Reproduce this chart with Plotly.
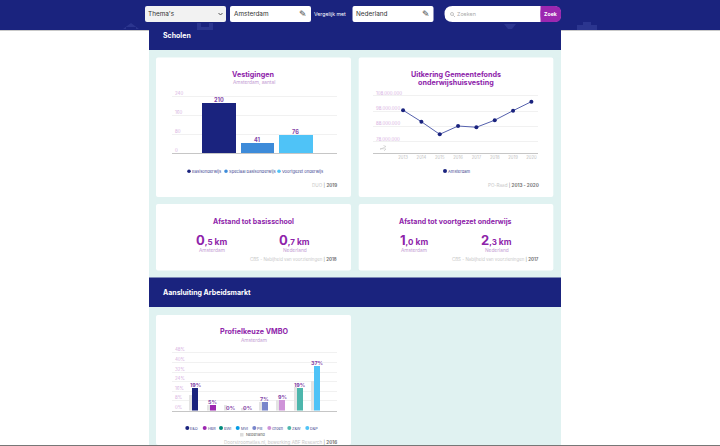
import plotly.graph_objects as go

# ---------- data ----------
school_types = ["Basisonderwijs", "Speciaal basisonderwijs", "Voortgezet onderwijs"]
school_counts = [210, 41, 76]
school_colors = ["#1a237e", "#3d8bd9", "#4fc3f7"]
school_ticks = [0, 80, 160, 240]

years = [2013, 2014, 2015, 2016, 2017, 2018, 2019, 2020]
uitkering = [98.7e6, 91.2e6, 83.0e6, 88.4e6, 87.6e6, 92.2e6, 98.4e6, 104.3e6]
uitkering_ticks = [78e6, 88e6, 98e6, 108e6]
uitkering_labels = ["78.000.000", "88.000.000", "98.000.000", "108.000.000"]

profielen = ["E&O", "HBR", "BWI", "MVI", "PIE", "Groen", "Z&W", "D&P"]
amsterdam = [19, 5, 0, 0, 7, 9, 19, 37]
amsterdam_labels = ["19%", "5%", "0%", "0%", "7%", "9%", "19%", "37%"]
nederland = [13, 4.5, 5, 2.5, 7.3, 8.7, 19.3, 25]
profiel_colors = ["#1a237e", "#9c27b0", "#00897b", "#039be5", "#7986cb", "#ce93d8", "#4db6ac", "#4fc3f7"]
profiel_ticks = [0, 8, 16, 24, 32, 40, 48]
profiel_labels = ["0%", "8%", "16%", "24%", "32%", "40%", "48%"]

# ---------- style ----------
W, H = 720, 446
NAVY = "#1a237e"
PURPLE = "#8e24aa"
LILAC = "#d5aee0"
TEAL = "#e0f2f1"
VALUE = "#8446a8"
FONT = "Inter, 'Noto Sans', sans-serif"

def px(x):
    return x / W

def py(y):
    return 1 - y / H

shapes = []
annotations = []

def rect(x0, y0, x1, y1, color, line=None):
    shapes.append(dict(type="rect", xref="paper", yref="paper", x0=px(x0), x1=px(x1),
                       y0=py(y1), y1=py(y0), fillcolor=color, layer="below",
                       line=dict(width=1 if line else 0, color=line or color)))

def round_rect(x0, y0, x1, y1, color, r=2):
    a0, a1, b0, b1 = px(x0), px(x1), py(y0), py(y1)
    rx, ry = r / W, r / H
    path = (f"M{a0+rx},{b0} L{a1-rx},{b0} Q{a1},{b0} {a1},{b0-ry} L{a1},{b1+ry} Q{a1},{b1} {a1-rx},{b1} "
            f"L{a0+rx},{b1} Q{a0},{b1} {a0},{b1+ry} L{a0},{b0-ry} Q{a0},{b0} {a0+rx},{b0} Z")
    shapes.append(dict(type="path", xref="paper", yref="paper", path=path, fillcolor=color,
                       layer="below", line=dict(width=0)))

def poly(points, fill=None, line=None, width=1):
    d = "M" + " L".join(f"{px(x)},{py(y)}" for x, y in points)
    if fill:
        d += " Z"
    shapes.append(dict(type="path", xref="paper", yref="paper", path=d, layer="below",
                       fillcolor=fill or "rgba(0,0,0,0)",
                       line=dict(width=width if line else 0, color=line or "rgba(0,0,0,0)")))

def dot(cx, cy, r, color):
    shapes.append(dict(type="circle", xref="paper", yref="paper", x0=px(cx - r), x1=px(cx + r),
                       y0=py(cy + r), y1=py(cy - r), fillcolor=color, layer="below", line=dict(width=0)))

def text(x, y, s, size, color, anchor="center", family=FONT):
    annotations.append(dict(x=px(x), y=py(y), xref="paper", yref="paper", text=s, showarrow=False,
                            xanchor=anchor, yanchor="middle", align=anchor,
                            font=dict(size=size, color=color, family=family),
                            borderpad=0, borderwidth=0))

def value_label(x, y, s, xref, yref, size, xshift=0):
    annotations.append(dict(x=x, y=y, xref=xref, yref=yref, text=f"<b>{s}</b>", showarrow=False,
                            xanchor="center", yanchor="bottom", xshift=xshift, yshift=-1,
                            font=dict(size=size, color=VALUE, family=FONT), borderpad=0))

# ---------- page chrome ----------
rect(149, 30, 561, 445, TEAL)
rect(0, 29.5, 720, 31, "#c9c9c9")
rect(0, 0, 720, 30, NAVY)
rect(0, 445, 720, 446, "#777777")
# navbar icons, only their lower parts peek out
ICON = "#2b358f"
poly([(123, 29), (131, 23), (139, 29), (136, 29), (136, 27), (126, 27), (126, 29)], fill=ICON)
rect(197, 23, 201, 30, ICON)
rect(209, 23, 213, 30, ICON)
rect(201, 27, 209, 30, ICON)
poly([(504, 24), (516, 24), (512, 29), (508, 29)], fill=ICON)
rect(577, 25, 597, 30, ICON)
rect(583, 22, 591, 25, ICON)

# controls
round_rect(145, 6, 226, 22, "#f2f2f2")
round_rect(230, 6, 311, 22, "#ffffff")
round_rect(352.5, 6, 433.5, 22, "#ffffff")
round_rect(444.5, 6, 561, 22, "#ffffff", r=8)
round_rect(540.5, 6, 561, 22, "#9c27b0", r=6)
rect(540.5, 6, 550, 22, "#9c27b0")
poly([(218.5, 13), (220.5, 15), (222.5, 13)], line="#555555", width=1)
shapes.append(dict(type="circle", xref="paper", yref="paper", x0=px(450.5), x1=px(453.5), y0=py(15.5), y1=py(12.5),
                   line=dict(width=0.7, color="#aaaaaa"), layer="below"))
poly([(453.3, 15.3), (455, 17)], line="#aaaaaa", width=0.7)
text(148, 13.5, "Thema's", 6.4, "#333333", "left")
text(233.5, 14, "Amsterdam", 6.4, "#333333", "left")
text(356, 14, "Nederland", 6.4, "#333333", "left")
text(314, 14, "Vergelijk met", 5.2, "#ffffff", "left")
text(457, 14, "Zoeken", 5.4, "#aaaaaa", "left")
text(550.7, 14, "<b>Zoek</b>", 5.2, "#ffffff")
text(303, 14, "✎", 9, "#444444", family="DejaVu Sans")
text(425.6, 14, "✎", 9, "#444444", family="DejaVu Sans")

# section bands
rect(149, 30, 561, 50, NAVY)
rect(149, 277.5, 561, 307, NAVY)
text(163, 35.5, "<b>Scholen</b>", 7, "#ffffff", "left")
text(163, 292, "<b>Aansluiting Arbeidsmarkt</b>", 7, "#ffffff", "left")

# cards
round_rect(156, 57.5, 351, 197, "#ffffff")
round_rect(358.7, 57.5, 553.3, 197, "#ffffff")
round_rect(156, 204, 351, 270.5, "#ffffff")
round_rect(358.7, 204, 553.3, 270.5, "#ffffff")
round_rect(156, 315, 351, 445, "#ffffff")

# ---------- card texts ----------
text(253.5, 74.7, "<b>Vestigingen</b>", 7.2, PURPLE)
text(253.5, 82.2, "Amsterdam, aantal", 4.8, "#c39bd3")
for cx, label, tx, color in zip([189, 226, 279], school_types, [191.7, 228.7, 282], school_colors):
    dot(cx, 171.3, 1.8, color)
    text(tx, 171.5, label, 4.1, "#3b3f8f", "left")
text(336.5, 185, "<span style='color:#c8c8c8'>DUO</span> | <b>2019</b>", 4.6, "#777777", "right")

text(456, 74.3, "<b>Uitkering Gemeentefonds</b>", 7.2, PURPLE)
text(456, 82.8, "<b>onderwijshuisvesting</b>", 7.2, PURPLE)
dot(445, 171, 2, NAVY)
text(448, 171.4, "Amsterdam", 4.1, "#3b3f8f", "left")
text(538.5, 185, "<span style='color:#c8c8c8'>PO-Raad</span> | <b>2013 - 2020</b>", 4.6, "#777777", "right")
poly([(380, 149.5), (386, 146.5), (383.5, 145.5)], line="#c4c4c4", width=0.6)
poly([(380, 148.5), (386, 149), (384, 151)], line="#c4c4c4", width=0.6)


def big(whole, dec):
    return (f"<b><span style='font-size:13px'>{whole}</span><span style='font-size:8px'>,{dec}</span>"
            f"<span style='font-size:8.5px'> km</span></b>")


text(253.7, 221, "<b>Afstand tot basisschool</b>", 7, PURPLE)
text(211.7, 240.5, big(0, 5), 8, PURPLE)
text(294.7, 240.5, big(0, 7), 8, PURPLE)
text(211.7, 250.3, "Amsterdam", 4.8, "#c39bd3")
text(294.7, 250.3, "Nederland", 4.8, "#c39bd3")
text(336.5, 259, "<span style='color:#c8c8c8'>CBS - Nabijheid van voorzieningen</span> | <b>2018</b>", 4.4, "#777777", "right")

text(455.7, 221, "<b>Afstand tot voortgezet onderwijs</b>", 7, PURPLE)
text(413.7, 240.5, big(1, 0), 8, PURPLE)
text(496.7, 240.5, big(2, 3), 8, PURPLE)
text(413.7, 250.3, "Amsterdam", 4.8, "#c39bd3")
text(496.7, 250.3, "Nederland", 4.8, "#c39bd3")
text(538.7, 259, "<span style='color:#c8c8c8'>CBS - Nabijheid van voorzieningen</span> | <b>2017</b>", 4.4, "#777777", "right")

text(253.5, 331.7, "<b>Profielkeuze VMBO</b>", 7.2, PURPLE)
text(253.5, 339.5, "Amsterdam", 4.8, "#c39bd3")
legend_x = [187.3, 204.7, 221, 237.7, 254.3, 269.3, 289.3, 307.3]
for cx, label, color in zip(legend_x, profielen, profiel_colors):
    dot(cx, 428, 2, color)
    text(cx + 3, 428.3, label, 3.8, "#3b3f8f", "left")
rect(240, 433, 243.5, 436.5, "#dddddd")
text(245.5, 434.8, "Nederland", 3.8, "#555555", "left")
text(337, 441.5, "<span style='color:#c8c8c8'>Doorstroomatlas.nl, bewerking ABF Research</span> | <b>2016</b>", 4.6, "#777777", "right")

# value labels, placed through the data axes
for cat, val in zip(school_types, school_counts):
    value_label(cat, val, val, "x", "y", 5.6)
for cat, val, lab in zip(profielen, amsterdam, amsterdam_labels):
    value_label(cat, val, lab, "x3", "y3", 5.4, xshift=3)

# ---------- traces ----------
fig = go.Figure()
fig.add_trace(go.Bar(x=school_types, y=school_counts, marker=dict(color=school_colors, line=dict(width=0)),
                     cliponaxis=False, width=0.87, xaxis="x", yaxis="y",
                     name="Vestigingen", showlegend=False))
fig.add_trace(go.Scatter(x=years, y=uitkering, mode="lines+markers", line=dict(color="#5561ad", width=1),
                         marker=dict(size=4, color=NAVY), xaxis="x2", yaxis="y2",
                         name="Amsterdam", showlegend=False))
fig.add_trace(go.Bar(x=profielen, y=nederland, marker=dict(color="#e4e4e4", line=dict(width=0)),
                     offset=-0.175, width=0.175, xaxis="x3", yaxis="y3", name="Nederland", showlegend=False))
fig.add_trace(go.Bar(x=profielen, y=amsterdam, marker=dict(color=profiel_colors, line=dict(width=0)),
                     offset=0, width=0.345, cliponaxis=False, xaxis="x3", yaxis="y3",
                     name="Amsterdam", showlegend=False))

GRID = "#f1f1f1"
BASE = "#c6c6c6"
y_common = dict(gridcolor=GRID, gridwidth=1, zeroline=False, showline=False, ticks="",
                ticklabelposition="inside", ticklabelshift=-3, tickfont=dict(size=4.4, color=LILAC, family=FONT))
x_common = dict(showgrid=False, zeroline=False, showline=True, linecolor=BASE, linewidth=1, ticks="")

fig.update_layout(
    width=W, height=H, margin=dict(l=0, r=0, t=0, b=0, autoexpand=False),
    paper_bgcolor="#ffffff", plot_bgcolor="rgba(0,0,0,0)", barmode="overlay",
    bargap=0, showlegend=False, shapes=shapes, annotations=annotations,
    font=dict(family=FONT),
    xaxis=dict(domain=[px(172), px(337)], anchor="y", range=[-1.22, 3.07], showticklabels=False, **x_common),
    yaxis=dict(domain=[py(153), py(86)], anchor="x", range=[0, 282.1], tickvals=school_ticks, **y_common),
    xaxis2=dict(domain=[px(373), px(538)], anchor="y2", range=[2011.36, 2020.36], tickvals=years,
                tickfont=dict(size=4.2, color="#bdbdbd", family=FONT), **x_common),
    yaxis2=dict(domain=[py(153), py(86)], anchor="x2", range=[70.8e6, 114.5e6], tickvals=uitkering_ticks,
                ticktext=uitkering_labels, **y_common),
    xaxis3=dict(domain=[px(172), px(337)], anchor="y3", range=[-1.17, 8.32], showticklabels=False, **x_common),
    yaxis3=dict(domain=[py(410.5), py(343)], anchor="x3", range=[0, 56.25], tickvals=profiel_ticks,
                ticktext=profiel_labels, **y_common),
)

fig.write_html("out.html", config={"displayModeBar": False},
               post_script="document.body.style.margin='0';document.body.style.overflow='hidden';")
